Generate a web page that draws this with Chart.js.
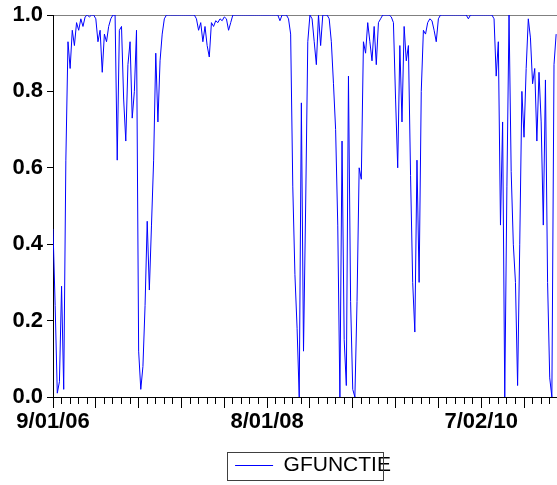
<!DOCTYPE html>
<html><head><meta charset="utf-8">
<script src="https://cdn.jsdelivr.net/npm/chart.js@4/dist/chart.umd.min.js"></script>
<style>html,body{margin:0;padding:0;background:#fff}#wrap{width:557px;height:485px}</style>
</head><body><div id="wrap"><canvas id="c" width="557" height="485"></canvas></div>
<script>
// Series name and data (one value every 5 observations)
const seriesName = 'GFUNCTIE';
const obsStep = 5;
const gfunctie = [
0.44,0.24,0.01,0.04,0.29,0.02,0.62,0.93,0.86,0.96,
0.92,0.98,0.96,0.99,0.97,0.995,1.0,0.995,1.0,1.0,
0.99,0.93,0.96,0.85,0.95,0.93,0.97,0.99,1.0,1.0,
0.62,0.96,0.97,0.78,0.67,0.87,0.93,0.73,0.80,0.96,
0.12,0.02,0.08,0.24,0.46,0.28,0.45,0.62,0.90,0.72,
0.88,0.95,0.99,1,1,1,1,1,1,1,
1,1,1,1,1,1,1,0.99,0.96,0.98,
0.93,0.97,0.92,0.89,0.98,0.97,0.985,0.98,0.99,0.985,
0.995,0.99,0.96,0.98,1,1,1,1,1,1,
1,1,1,1,1,1,1,1,1,1,
1,1,1,1,1,1,0.985,1,1,1,
0.99,0.95,0.55,0.32,0.18,0.0,0.77,0.12,0.50,0.93,
1,0.99,0.93,0.87,1,0.92,1,1,1,0.99,
0.93,0.82,0.70,0.45,0.0,0.67,0.15,0.03,0.84,0.25,
0.02,0.0,0.25,0.60,0.57,0.93,0.90,0.98,0.93,0.88,
0.97,0.87,0.98,0.99,1,1,1,1,0.995,0.98,
0.78,0.60,0.92,0.72,0.97,0.88,0.92,0.58,0.30,0.17,
0.62,0.30,0.80,0.96,0.95,0.98,0.99,0.985,0.96,0.93,
0.99,1,1,1,1,1,1,1,1,1,
1,1,1,1,0.99,1,1,1,1,1,
1,1,1,1,1,1,0.99,0.84,0.93,0.45,
0.72,0.0,0.55,1.0,0.59,0.40,0.30,0.03,0.40,0.80,
0.68,0.86,0.99,0.94,0.82,0.86,0.67,0.85,0.72,0.45,
0.83,0.30,0.05,0.0,0.87,0.95
];
// x tick labels (observation index -> date label)
const xTickObs = [0, 500, 1000];
const xTickText = ['9/01/06', '8/01/08', '7/02/10'];
const lastObs = 1177;
const yMin = 0, yMax = 1, yStep = 0.2;

const points = gfunctie.map((v, i) => ({x: i * obsStep, y: v}));

// legend sits slightly right of the plot centre, as in the original
const legendShiftX = 8;
const legendShift = {
  id: 'legendShift',
  afterLayout(chart) {
    const lg = chart.legend;
    if (lg) { lg.left += legendShiftX; lg.right += legendShiftX; }
  }
};
const legendFrame = {
  id: 'legendFrame',
  afterDraw(chart) {
    const lg = chart.legend;
    if (!lg || !lg.legendHitBoxes || !lg.legendHitBoxes.length) return;
    const hb = lg.legendHitBoxes[0];
    const cy = hb.top + hb.height / 2;
    const ctx = chart.ctx;
    ctx.save();
    ctx.strokeStyle = '#404040';
    ctx.lineWidth = 1;
    ctx.strokeRect(Math.round(hb.left - 8) + 0.5, Math.round(cy - 14) + 0.5, Math.round(hb.width), 28);
    ctx.restore();
  }
};

const fontFamily = '"Liberation Sans", Arial, sans-serif';

new Chart(document.getElementById('c'), {
  type: 'line',
  data: {
    datasets: [{
      label: seriesName,
      data: points,
      borderColor: '#0000ff',
      backgroundColor: '#0000ff',
      borderWidth: 1,
      pointRadius: 0,
      tension: 0,
      fill: false
    }]
  },
  options: {
    responsive: false,
    animation: false,
    devicePixelRatio: 1,
    layout: {padding: {top: 0, right: 0, bottom: -1, left: 0}},
    plugins: {
      tooltip: {enabled: false},
      legend: {
        position: 'bottom',
        fullSize: false,
        labels: {
          usePointStyle: true,
          pointStyle: 'line',
          pointStyleWidth: 38,
          boxWidth: 38,
          padding: 0,
          color: '#000',
          font: {family: fontFamily, size: 21}
        }
      }
    },
    scales: {
      x: {
        type: 'linear',
        position: 'bottom',
        min: 0,
        max: lastObs,
        afterFit(s) { s.height = 58; },
        ticks: {
          stepSize: 20,
          autoSkip: false,
          includeBounds: false,
          maxRotation: 0,
          padding: 1,
          color: '#000',
          font: {family: fontFamily, size: 22, weight: 'bold'},
          callback: (v) => { const k = xTickObs.indexOf(v); return k >= 0 ? xTickText[k] : ''; }
        },
        grid: {
          drawOnChartArea: false,
          tickLength: 11,
          color: '#000',
          tickBorderDash: (ctx) => (ctx.tick && ctx.tick.value % 100 === 0) ? [] : [6, 30]
        },
        border: {color: '#000', width: 1}
      },
      xTop: {
        type: 'linear',
        position: 'top',
        min: 0,
        max: lastObs,
        afterFit(s) { s.height = 0; },
        ticks: {display: false},
        grid: {drawOnChartArea: false, drawTicks: false},
        border: {color: '#808080', width: 1}
      },
      y: {
        min: yMin,
        max: yMax,
        afterFit(s) { s.width = 53; },
        ticks: {
          stepSize: yStep,
          padding: 4,
          color: '#000',
          font: {family: fontFamily, size: 22, weight: 'bold', lineHeight: 1.0},
          callback: (v) => Number(v).toFixed(1)
        },
        grid: {drawOnChartArea: false, tickLength: 6, color: '#000'},
        border: {color: '#000', width: 1}
      }
    }
  },
  plugins: [legendShift, legendFrame]
});
</script>
</body></html>
